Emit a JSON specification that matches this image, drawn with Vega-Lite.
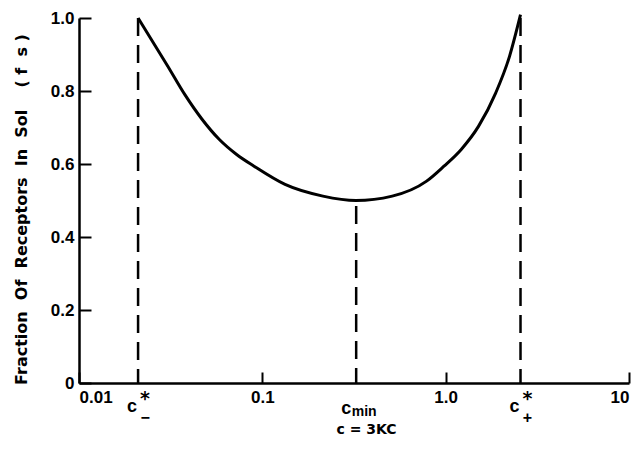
{
  "$schema": "https://vega.github.io/schema/vega-lite/v6.json",
  "autosize": "none",
  "width": 550,
  "height": 365,
  "padding": {"left": 79, "top": 18, "right": 15, "bottom": 66},
  "background": "white",
  "config": {
    "view": {"stroke": null},
    "font": "Liberation Sans",
    "axis": {
      "domainColor": "black", "domainWidth": 2.5, "tickColor": "black", "tickWidth": 2,
      "labelColor": "black", "labelFont": "Liberation Sans", "labelFontWeight": "bold", "labelFontSize": 17,
      "titleColor": "black", "titleFont": "DejaVu Sans", "titleFontWeight": "bold", "titleFontSize": 14,
      "grid": false
    }
  },
  "datasets": {
    "curve": [
      {"c": 0.0210, "f": 1.0},
      {"c": 0.0305, "f": 0.868},
      {"c": 0.0378, "f": 0.790},
      {"c": 0.0470, "f": 0.722},
      {"c": 0.0583, "f": 0.667},
      {"c": 0.0724, "f": 0.626},
      {"c": 0.0901, "f": 0.594},
      {"c": 0.133, "f": 0.544},
      {"c": 0.214, "f": 0.512},
      {"c": 0.324, "f": 0.5},
      {"c": 0.511, "f": 0.512},
      {"c": 0.787, "f": 0.553},
      {"c": 0.979, "f": 0.594},
      {"c": 1.216, "f": 0.640},
      {"c": 1.51, "f": 0.703},
      {"c": 1.876, "f": 0.795},
      {"c": 2.23, "f": 0.895},
      {"c": 2.56, "f": 1.009}
    ],
    "lines": [
      {"c": 0.0210, "lo": 0, "hi": 1.0},
      {"c": 0.325, "lo": 0, "hi": 0.485},
      {"c": 2.56, "lo": 0, "hi": 1.0}
    ],
    "outer": [{"c": 0.0210}, {"c": 2.56}],
    "minus": [{"c": 0.0210}],
    "plus": [{"c": 2.56}],
    "mid": [{"c": 0.325}]
  },
  "layer": [
    {
      "data": {"name": "lines"},
      "mark": {"type": "rule", "color": "black", "strokeWidth": 2.5, "strokeDash": [18, 9]},
      "encoding": {
        "x": {"field": "c", "type": "quantitative", "scale": {"type": "log", "domain": [0.01, 10], "nice": false},
          "axis": {"values": [0.01, 0.1, 1, 10], "tickSize": -11, "labelPadding": 17,
            "labelExpr": "datum.value == 1 ? '1.0' : datum.value == 10 ? '10' : datum.value < 0.05 ? '0.01' : '0.1'",
            "title": "c = 3KC", "titlePadding": 17, "titleX": 287}},
        "y": {"field": "hi", "type": "quantitative", "scale": {"domain": [0, 1], "nice": false},
          "axis": {"values": [0, 0.2, 0.4, 0.6, 0.8, 1], "tickSize": -12, "labelPadding": 17,
            "labelExpr": "datum.value == 0 ? '0' : format(datum.value, '.1f')",
            "title": "Fraction\u00a0 Of\u00a0 Receptors\u00a0 In\u00a0 Sol\u00a0\u00a0\u00a0 (\u00a0f\u00a0 s\u00a0)", "titleFontSize": 16, "titlePadding": 21, "titleY": 191}},
        "y2": {"field": "lo"}
      }
    },
    {
      "data": {"name": "curve"},
      "mark": {"type": "line", "color": "black", "strokeWidth": 3, "interpolate": "monotone"},
      "encoding": {
        "x": {"field": "c", "type": "quantitative"},
        "y": {"field": "f", "type": "quantitative"}
      }
    },
    {
      "data": {"name": "outer"},
      "mark": {"type": "text", "text": "c", "font": "Liberation Sans", "fontWeight": "bold", "fontSize": 18, "dx": -6, "baseline": "middle", "color": "black"},
      "encoding": {
        "x": {"field": "c", "type": "quantitative"},
        "y": {"datum": -0.066}
      }
    },
    {
      "data": {"name": "outer"},
      "mark": {"type": "text", "text": "*", "font": "DejaVu Sans", "fontWeight": "bold", "fontSize": 19, "dx": 7, "baseline": "middle", "color": "black"},
      "encoding": {
        "x": {"field": "c", "type": "quantitative"},
        "y": {"datum": -0.045}
      }
    },
    {
      "data": {"name": "minus"},
      "mark": {"type": "text", "text": "−", "font": "Liberation Sans", "fontWeight": "bold", "fontSize": 16, "dx": 7, "baseline": "middle", "color": "black"},
      "encoding": {
        "x": {"field": "c", "type": "quantitative"},
        "y": {"datum": -0.095}
      }
    },
    {
      "data": {"name": "plus"},
      "mark": {"type": "text", "text": "+", "font": "Liberation Sans", "fontWeight": "bold", "fontSize": 16, "dx": 7, "baseline": "middle", "color": "black"},
      "encoding": {
        "x": {"field": "c", "type": "quantitative"},
        "y": {"datum": -0.095}
      }
    },
    {
      "data": {"name": "mid"},
      "mark": {"type": "text", "text": "c", "font": "Liberation Sans", "fontWeight": "bold", "fontSize": 18, "dx": -10, "baseline": "middle", "color": "black"},
      "encoding": {
        "x": {"field": "c", "type": "quantitative"},
        "y": {"datum": -0.07}
      }
    },
    {
      "data": {"name": "mid"},
      "mark": {"type": "text", "text": "min", "font": "Liberation Sans", "fontWeight": "bold", "fontSize": 14, "dx": 8, "baseline": "middle", "color": "black"},
      "encoding": {
        "x": {"field": "c", "type": "quantitative"},
        "y": {"datum": -0.08}
      }
    }
  ]
}
